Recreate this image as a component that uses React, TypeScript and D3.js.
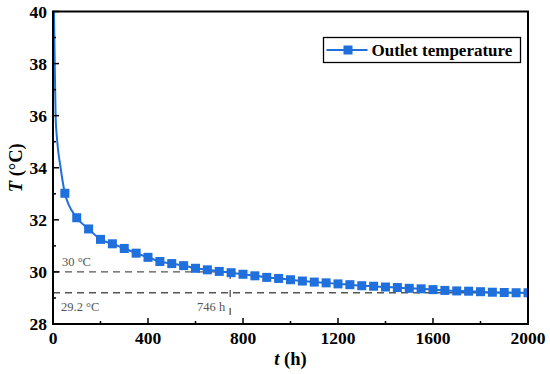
import React, { useEffect, useRef } from 'react';
import * as d3 from 'd3';

// marker times (h) and outlet temperatures (°C)
const markerTimes = [
  50, 100, 150, 200, 250, 300, 350, 400, 450, 500,
  550, 600, 650, 700, 750, 800, 850, 900, 950, 1000,
  1050, 1100, 1150, 1200, 1250, 1300, 1350, 1400, 1450, 1500,
  1550, 1600, 1650, 1700, 1750, 1800, 1850, 1900, 1950, 2000,
];
const markerTemps = [
  33.02, 32.08, 31.65, 31.25, 31.08, 30.9, 30.72, 30.56, 30.4, 30.32,
  30.24, 30.14, 30.08, 30.02, 29.97, 29.91, 29.85, 29.79, 29.75, 29.7,
  29.65, 29.61, 29.58, 29.54, 29.51, 29.47, 29.45, 29.42, 29.4, 29.37,
  29.35, 29.32, 29.29, 29.27, 29.26, 29.24, 29.22, 29.21, 29.2, 29.2,
];
// early, steep part of the curve (no markers)
const earlyTimes = [0, 4, 7, 11, 18, 32];
const earlyTemps = [41.5, 40, 38.2, 36, 35, 34];

const xTicks = [0, 400, 800, 1200, 1600, 2000];
const xMinor = [200, 600, 1000, 1400, 1800];
const yTicks = [28, 30, 32, 34, 36, 38, 40];
const yMinor = [29, 31, 33, 35, 37, 39];

const crossTime = 746;
const crossTemp = 30;
const finalTemp = 29.2;

const W = 550;
const H = 374;
const margin = { top: 11.5, right: 22, bottom: 50, left: 53 };
const blue = '#1f6fdc';
const serif = 'Liberation Serif, Times New Roman, Times, serif';

const App = () => {
  const svgRef = useRef<SVGSVGElement>(null);

  useEffect(() => {
    const svg = d3.select(svgRef.current);
    svg.selectAll('*').remove();

    const innerW = W - margin.left - margin.right;
    const innerH = H - margin.top - margin.bottom;

    const x = d3.scaleLinear().domain([0, 2000]).range([0, innerW]);
    const y = d3.scaleLinear().domain([28, 40]).range([innerH, 0]);

    svg.append('defs').append('clipPath')
      .attr('id', 'plotclip')
      .append('rect')
      .attr('width', innerW)
      .attr('height', innerH);

    const g = svg.append('g')
      .attr('transform', `translate(${margin.left},${margin.top})`);

    // reference lines
    const refs = g.append('g')
      .attr('stroke', '#555')
      .attr('stroke-width', 1.3)
      .attr('fill', 'none');
    refs.append('line')
      .attr('x1', 0).attr('x2', x(crossTime))
      .attr('y1', y(crossTemp)).attr('y2', y(crossTemp))
      .attr('stroke-dasharray', '7 5');
    refs.append('line')
      .attr('x1', 0).attr('x2', innerW)
      .attr('y1', y(finalTemp)).attr('y2', y(finalTemp))
      .attr('stroke-dasharray', '7 5');
    refs.append('line')
      .attr('x1', x(crossTime)).attr('x2', x(crossTime))
      .attr('y1', y(crossTemp)).attr('y2', innerH)
      .attr('stroke-dasharray', '7 11');

    const ann = g.append('g')
      .style('font-family', serif)
      .attr('font-size', 12.5)
      .attr('fill', '#555');
    ann.append('text').attr('x', 9).attr('y', y(crossTemp) - 6).text('30 °C');
    ann.append('text').attr('x', 8).attr('y', y(finalTemp) + 18).text('29.2 °C');
    ann.append('text')
      .attr('x', x(crossTime) - 5)
      .attr('y', y(finalTemp) + 18)
      .attr('text-anchor', 'end')
      .text('746 h');

    // curve
    const lineData = earlyTimes.map((t, i) => [t, earlyTemps[i]])
      .concat(markerTimes.map((t, i) => [t, markerTemps[i]]));
    const line = d3.line<number[]>()
      .x(d => x(d[0]))
      .y(d => y(d[1]))
      .curve(d3.curveMonotoneX);

    const plot = g.append('g').attr('clip-path', 'url(#plotclip)');
    plot.append('path')
      .datum(lineData)
      .attr('d', line)
      .attr('fill', 'none')
      .attr('stroke', blue)
      .attr('stroke-width', 2);

    const ms = 9;
    plot.selectAll('rect.marker')
      .data(markerTimes)
      .enter()
      .append('rect')
      .attr('class', 'marker')
      .attr('x', (d) => x(d) - ms / 2)
      .attr('y', (d, i) => y(markerTemps[i]) - ms / 2)
      .attr('width', ms)
      .attr('height', ms)
      .attr('fill', blue);

    // ticks (inward)
    const tickG = g.append('g').attr('stroke', '#000').attr('stroke-width', 1.5);
    xTicks.forEach(t => {
      tickG.append('line').attr('x1', x(t)).attr('x2', x(t)).attr('y1', innerH).attr('y2', innerH - 6);
    });
    xMinor.forEach(t => {
      tickG.append('line').attr('x1', x(t)).attr('x2', x(t)).attr('y1', innerH).attr('y2', innerH - 3);
    });
    yTicks.forEach(v => {
      tickG.append('line').attr('x1', 0).attr('x2', 6).attr('y1', y(v)).attr('y2', y(v));
    });
    yMinor.forEach(v => {
      tickG.append('line').attr('x1', 0).attr('x2', 3).attr('y1', y(v)).attr('y2', y(v));
    });

    // frame
    g.append('rect')
      .attr('width', innerW)
      .attr('height', innerH)
      .attr('fill', 'none')
      .attr('stroke', '#000')
      .attr('stroke-width', 2);

    // tick labels
    const lab = g.append('g')
      .style('font-family', serif)
      .attr('font-weight', 'bold')
      .attr('font-size', 17.5)
      .attr('fill', '#000');
    xTicks.forEach(t => {
      lab.append('text')
        .attr('x', x(t))
        .attr('y', innerH + 20)
        .attr('text-anchor', 'middle')
        .text(String(t));
    });
    yTicks.forEach(v => {
      lab.append('text')
        .attr('x', -6)
        .attr('y', y(v) + 6)
        .attr('text-anchor', 'end')
        .text(String(v));
    });

    // axis titles
    const xt = g.append('text')
      .attr('x', innerW / 2)
      .attr('y', innerH + 41)
      .attr('text-anchor', 'middle')
      .style('font-family', serif)
      .attr('font-weight', 'bold')
      .attr('font-size', 18.5);
    xt.append('tspan').attr('font-style', 'italic').text('t');
    xt.append('tspan').text(' (h)');

    const yt = g.append('text')
      .attr('transform', `translate(${-31},${innerH / 2}) rotate(-90)`)
      .attr('text-anchor', 'middle')
      .style('font-family', serif)
      .attr('font-weight', 'bold')
      .attr('font-size', 18.5);
    yt.append('tspan').attr('font-style', 'italic').text('T');
    yt.append('tspan').text(' (°C)');

    // legend
    const leg = svg.append('g').attr('transform', 'translate(323.5,37.5)');
    leg.append('rect')
      .attr('width', 197)
      .attr('height', 25)
      .attr('fill', '#fff')
      .attr('stroke', '#000')
      .attr('stroke-width', 1.3);
    leg.append('line')
      .attr('x1', 3).attr('x2', 44)
      .attr('y1', 12.5).attr('y2', 12.5)
      .attr('stroke', blue)
      .attr('stroke-width', 2);
    leg.append('rect')
      .attr('x', 24.5 - ms / 2).attr('y', 12.5 - ms / 2)
      .attr('width', ms).attr('height', ms)
      .attr('fill', blue);
    leg.append('text')
      .attr('x', 48)
      .attr('y', 18)
      .style('font-family', serif)
      .attr('font-weight', 'bold')
      .attr('font-size', 17)
      .text('Outlet temperature');
  }, []);

  return (
    <svg
      ref={svgRef}
      width={W}
      height={H}
      style={{ position: 'absolute', left: 0, top: 0, background: '#fff' }}
    />
  );
};

export default App;
